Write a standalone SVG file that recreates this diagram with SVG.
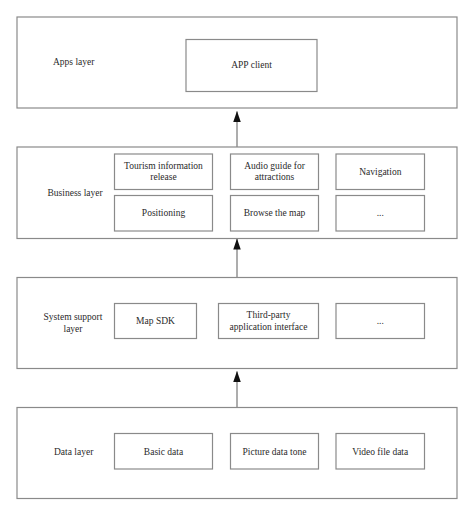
<svg xmlns="http://www.w3.org/2000/svg" width="474" height="516" viewBox="0 0 474 516">
<defs>
<style>
.layer{fill:#fff;stroke:#8a8a8a;stroke-width:1.2}
.box{fill:#fff;stroke:#8a8a8a;stroke-width:1.2}
text{font-family:"Liberation Serif","Times New Roman",serif;font-size:9.5px;fill:#2a2a2a}
.c{text-anchor:middle}
.conn{stroke:#8a8a8a;stroke-width:1.4;fill:none}
</style>
<marker id="ah" markerUnits="userSpaceOnUse" markerWidth="11" markerHeight="7.5" refX="10.5" refY="3.75" orient="auto" viewBox="0 0 11 7.5">
<path d="M0,0 L11,3.75 L0,7.5 Z" fill="#111"/>
</marker>
</defs>
<rect width="474" height="516" fill="#fff"/>
<g id="apps-layer">
<rect class="layer" x="17" y="17" width="440" height="91"/>
<text x="53" y="65">Apps layer</text>
</g>
<g id="app-client">
<rect class="box" x="186" y="39.5" width="131" height="52"/>
<text class="c" x="251.5" y="68">APP client</text>
</g>
<g id="business-layer">
<rect class="layer" x="17" y="147" width="440" height="91.5"/>
<text x="47.5" y="196">Business layer</text>
</g>
<g id="tourism-info">
<rect class="box" x="114.5" y="154" width="98" height="35.5"/>
<text class="c" x="163.5" y="169">Tourism information</text>
<text class="c" x="163.5" y="180">release</text>
</g>
<g id="audio-guide">
<rect class="box" x="230.5" y="154" width="88" height="35.5"/>
<text class="c" x="274.5" y="169">Audio guide for</text>
<text class="c" x="274.5" y="180">attractions</text>
</g>
<g id="navigation">
<rect class="box" x="336" y="154" width="88.5" height="35.5"/>
<text class="c" x="380.3" y="175">Navigation</text>
</g>
<g id="positioning">
<rect class="box" x="114.5" y="195.5" width="98" height="35.5"/>
<text class="c" x="163.5" y="216">Positioning</text>
</g>
<g id="browse-map">
<rect class="box" x="230.5" y="195.5" width="88" height="35.5"/>
<text class="c" x="274.5" y="216">Browse the map</text>
</g>
<g id="business-more">
<rect class="box" x="336" y="195.5" width="88.5" height="35.5"/>
<text class="c" x="380.3" y="216">...</text>
</g>
<g id="system-layer">
<rect class="layer" x="17" y="277.5" width="440" height="91"/>
<text class="c" x="73" y="320">System support</text>
<text class="c" x="73" y="332">layer</text>
</g>
<g id="map-sdk">
<rect class="box" x="114.5" y="303.5" width="82" height="35"/>
<text class="c" x="155.5" y="324">Map SDK</text>
</g>
<g id="third-party">
<rect class="box" x="218.5" y="303.5" width="100" height="35"/>
<text class="c" x="268.5" y="318">Third-party</text>
<text class="c" x="268.5" y="329.5">application interface</text>
</g>
<g id="system-more">
<rect class="box" x="336" y="303.5" width="88.5" height="35"/>
<text class="c" x="380.3" y="324">...</text>
</g>
<g id="data-layer">
<rect class="layer" x="17" y="407.5" width="440" height="91"/>
<text x="54" y="455">Data layer</text>
</g>
<g id="basic-data">
<rect class="box" x="114.5" y="433.5" width="98" height="35.5"/>
<text class="c" x="163.5" y="454.5">Basic data</text>
</g>
<g id="picture-data">
<rect class="box" x="230.5" y="433.5" width="88" height="35.5"/>
<text class="c" x="274.5" y="454.5">Picture data tone</text>
</g>
<g id="video-data">
<rect class="box" x="336" y="433.5" width="88.5" height="35.5"/>
<text class="c" x="380.3" y="454.5">Video file data</text>
</g>
<g id="connectors">
<line class="conn" x1="237" y1="147" x2="237" y2="111.5" marker-end="url(#ah)"/>
<line class="conn" x1="237" y1="277.5" x2="237" y2="239" marker-end="url(#ah)"/>
<line class="conn" x1="237" y1="407.5" x2="237" y2="371.5" marker-end="url(#ah)"/>
</g>
</svg>
